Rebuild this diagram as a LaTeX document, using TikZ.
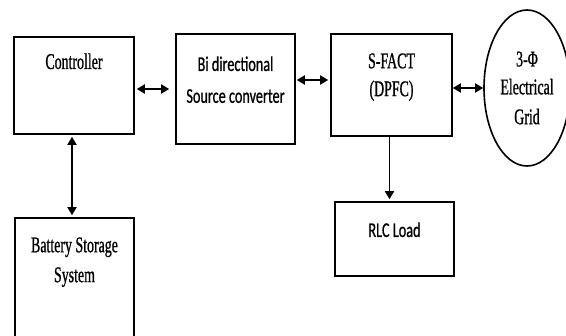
\documentclass[tikz,border=0pt]{standalone}
\usepackage{fontspec}
\setmainfont{Liberation Serif}[FakeStretch=0.62,FakeBold=0.8]
\newfontfamily\calfont{Carlito}[FakeStretch=0.68,FakeBold=0.8]
\usetikzlibrary{arrows.meta,shapes.geometric}

\begin{document}
\begin{tikzpicture}[x=1bp,y=-1bp,
	box/.style={draw,line width=1.6bp,inner sep=0pt},
	txt/.style={anchor=north,align=center,inner sep=0pt,font=\fontsize{22.5}{30}\selectfont},
	sanstxt/.style={txt,font=\calfont\fontsize{21}{32}\selectfont},
	link/.style={line width=1.8bp,{Triangle[length=8bp,width=9bp]}-{Triangle[length=8bp,width=9bp]}},
	feed/.style={line width=1.8bp,-{Triangle[length=8bp,width=9bp]}}]
		\useasboundingbox (0,0) rectangle (566,335);
		\node[box,minimum width=120bp,minimum height=97bp,label={[txt,yshift=-17bp]north:Controller}] (ctrl) at (74,85.5) {};
		\node[box,minimum width=119bp,minimum height=110bp,label={[sanstxt,yshift=-23bp]north:Bi directional\\Source converter}] (conv) at (235.5,89) {};
		\node[box,minimum width=121bp,minimum height=102bp,label={[txt,yshift=-20bp,font=\fontsize{22.5}{28}\selectfont]north:S-FACT\\(DPFC)}] (sfact) at (391.5,85) {};
		\node[box,ellipse,minimum width=86bp,minimum height=156bp,align=center,font=\fontsize{22.5}{30}\selectfont] (grid) at (527,88) {3-Φ\\[-2bp]Electrical\\Grid};
		\node[box,minimum width=119bp,minimum height=124bp,label={[txt,yshift=-20bp]north:Battery Storage\\System}] (bss) at (74.5,280) {};
		\node[box,minimum width=119bp,minimum height=74bp,label={[sanstxt,yshift=-21bp]north:RLC Load}] (rlc) at (394.5,239) {};

		\draw[link,shorten <=2bp,shorten >=6bp] ([yshift=-3.5bp]ctrl.east) -- ([yshift=-3.5bp]ctrl.east -| conv.west);
		\draw[link,shorten <=1bp,shorten >=2bp] ([yshift=9bp]conv.east) -- ([yshift=9bp]conv.east -| sfact.west);
		\draw[link,shorten >=0bp] (sfact.east |- grid.west) -- (grid.west);
		\draw[link,shorten <=2bp,shorten >=2bp] ([xshift=-2bp]ctrl.south) -- ([xshift=-2bp]ctrl.south |- bss.north);
		\draw[feed,shorten >=2bp] ([xshift=-2bp]sfact.south) -- ([xshift=-2bp]sfact.south |- rlc.north);
\end{tikzpicture}
\end{document}
